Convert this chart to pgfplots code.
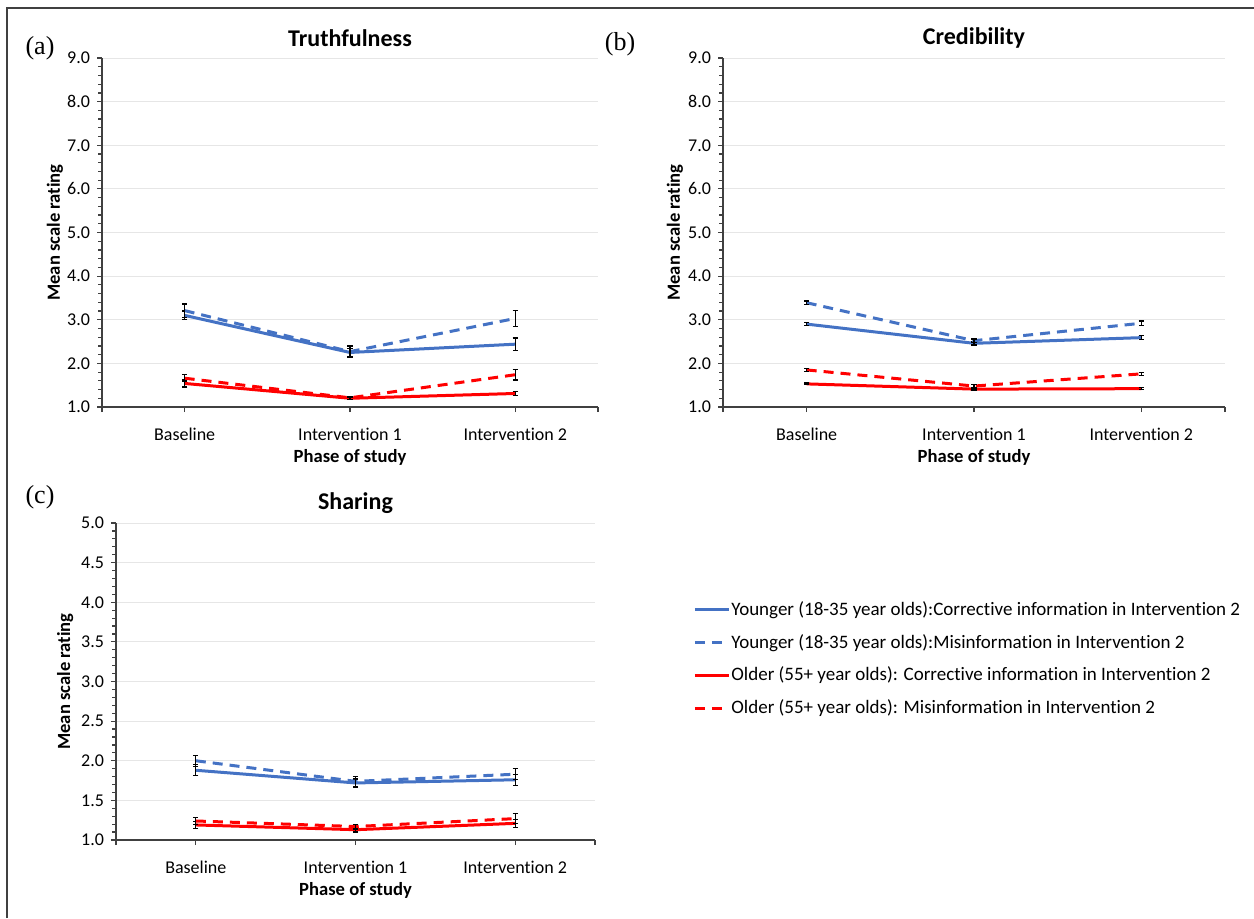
\documentclass[border=0pt]{standalone}
\usepackage{fontspec}
\setmainfont{Carlito}[Ligatures={NoCommon,NoRare,NoContextual}]
\newfontfamily\timesfont{Liberation Serif}
\usepackage{pgfplots}
\usepackage{pgfplotstable}
\pgfplotsset{compat=1.18}

\definecolor{ublue}{HTML}{4472C4}
\definecolor{ured}{HTML}{FF0000}
\definecolor{gridgrey}{HTML}{E6E6E6}
\definecolor{axgrey}{HTML}{404040}

% x: 0 Baseline, 1 Intervention 1, 2 Intervention 2
% yc/ym: younger corrective/misinfo, oc/om: older corrective/misinfo
\pgfplotstableread{
x yc   eyc  ym   eym  oc   eoc  om   eom
0 3.10 0.10 3.21 0.15 1.54 0.08 1.66 0.08
1 2.25 0.10 2.27 0.13 1.20 0.03 1.21 0.03
2 2.44 0.14 3.03 0.18 1.31 0.04 1.74 0.12
}\truthtab

\pgfplotstableread{
x yc   eyc  ym   eym  oc   eoc  om   eom
0 2.90 0.04 3.39 0.04 1.53 0.02 1.85 0.03
1 2.46 0.04 2.52 0.04 1.41 0.02 1.48 0.03
2 2.59 0.04 2.92 0.05 1.42 0.02 1.76 0.03
}\credtab

\pgfplotstableread{
x yc   eyc  ym   eym  oc   eoc  om   eom
0 1.88 0.07 2.00 0.07 1.19 0.04 1.24 0.04
1 1.72 0.05 1.74 0.06 1.13 0.03 1.17 0.03
2 1.76 0.07 1.83 0.07 1.21 0.05 1.27 0.06
}\sharetab

\pgfplotsset{
  panel/.style={
    scale only axis,
    axis x line*=bottom, axis y line*=left,
    axis line style={axgrey, line width=0.7pt},
    xmin=-0.5, xmax=2.5,
    xtick={-0.5,0,1,2,2.5},
    xticklabels={,Baseline,Intervention 1,Intervention 2,},
    minor y tick num=4,
    tick align=outside,
    major tick length=2.5pt, minor tick length=1.8pt,
    every tick/.style={axgrey, line width=0.6pt},
    ymajorgrids, grid style={gridgrey, line width=0.5pt},
    /pgf/number format/assume math mode=true,
    yticklabel style={/pgf/number format/.cd, fixed, fixed zerofill, precision=1},
    tick label style={font=\fontsize{9}{10}\selectfont, text=black},
    xticklabel style={yshift=-4.5pt},
    label style={font=\bfseries\fontsize{9.3}{11}\selectfont},
    title style={font=\bfseries\fontsize{12}{14}\selectfont, at={(0.5,1)}, anchor=center, yshift=4pt},
    xlabel={Phase of study}, ylabel={Mean scale rating},
    xlabel style={at={(axis description cs:0.5,0)}, anchor=center, yshift=-25pt},
    error bars/y dir=both, error bars/y explicit,
    error bars/error bar style={black, line width=0.6pt, solid},
    error bars/error mark options={black, rotate=90, mark size=1.3pt, line width=0.6pt, solid},
  },
  yc/.style={ublue, line width=1.5pt, line join=round, mark=none},
  ym/.style={ublue, line width=1.5pt, line join=round, mark=none, dash pattern=on 5pt off 3.5pt},
  oc/.style={ured, line width=1.5pt, line join=round, mark=none},
  om/.style={ured, line width=1.5pt, line join=round, mark=none, dash pattern=on 5pt off 3.5pt},
}

\begin{document}
\begin{tikzpicture}
\useasboundingbox (0,0) rectangle (627pt,459pt);
\draw[axgrey, line width=1pt] (3.5pt,0) -- (3.5pt,455pt) -- (627pt,455pt);

\node[font=\timesfont\fontsize{13}{14}\selectfont] at (20pt,435pt) {(a)};
\node[font=\timesfont\fontsize{13}{14}\selectfont] at (310pt,437pt) {(b)};
\node[font=\timesfont\fontsize{13}{14}\selectfont] at (20pt,210.5pt) {(c)};

\begin{axis}[panel, at={(51pt,255.5pt)}, anchor=south west,
    width=248pt, height=174.5pt,
    ymin=1, ymax=9, ytick={1,2,...,9},
    title={Truthfulness},
    ylabel style={at={(axis description cs:-0.095,0.5)}, anchor=center}]
\addplot[yc] table[x=x, y=yc, y error=eyc] {\truthtab};
\addplot[ym] table[x=x, y=ym, y error=eym] {\truthtab};
\addplot[oc] table[x=x, y=oc, y error=eoc] {\truthtab};
\addplot[om] table[x=x, y=om, y error=eom] {\truthtab};
\end{axis}

\begin{axis}[panel, at={(361.5pt,255.5pt)}, anchor=south west,
    width=251pt, height=174.5pt,
    ymin=1, ymax=9, ytick={1,2,...,9},
    title={Credibility},
    ylabel style={at={(axis description cs:-0.096,0.5)}, anchor=center}]
\addplot[yc] table[x=x, y=yc, y error=eyc] {\credtab};
\addplot[ym] table[x=x, y=ym, y error=eym] {\credtab};
\addplot[oc] table[x=x, y=oc, y error=eoc] {\credtab};
\addplot[om] table[x=x, y=om, y error=eom] {\credtab};
\end{axis}

\begin{axis}[panel, at={(58pt,39pt)}, anchor=south west,
    width=239.5pt, height=158.5pt,
    ymin=1, ymax=5, ytick={1,1.5,...,5},
    title={Sharing},
    ylabel style={at={(axis description cs:-0.106,0.5)}, anchor=center},
    legend style={at={(rel axis cs:1.2046,0.76)}, anchor=north west,
        draw=none, fill=none, inner sep=0pt, row sep=5.9pt,
        nodes={inner xsep=0.5pt, inner ysep=1pt},
        font=\fontsize{9.5}{11}\selectfont},
    legend cell align=left,
    legend image code/.code={\draw[#1] (0pt,0pt) -- (17pt,0pt);}]
\addplot[yc] table[x=x, y=yc, y error=eyc] {\sharetab};
\addlegendentry{Younger (18-35 year olds):Corrective information in Intervention 2}
\addplot[ym] table[x=x, y=ym, y error=eym] {\sharetab};
\addlegendentry{Younger (18-35 year olds):Misinformation in Intervention 2}
\addplot[oc] table[x=x, y=oc, y error=eoc] {\sharetab};
\addlegendentry{Older (55+ year olds): Corrective information in Intervention 2}
\addplot[om] table[x=x, y=om, y error=eom] {\sharetab};
\addlegendentry{Older (55+ year olds): Misinformation in Intervention 2}
\end{axis}
\end{tikzpicture}
\end{document}
